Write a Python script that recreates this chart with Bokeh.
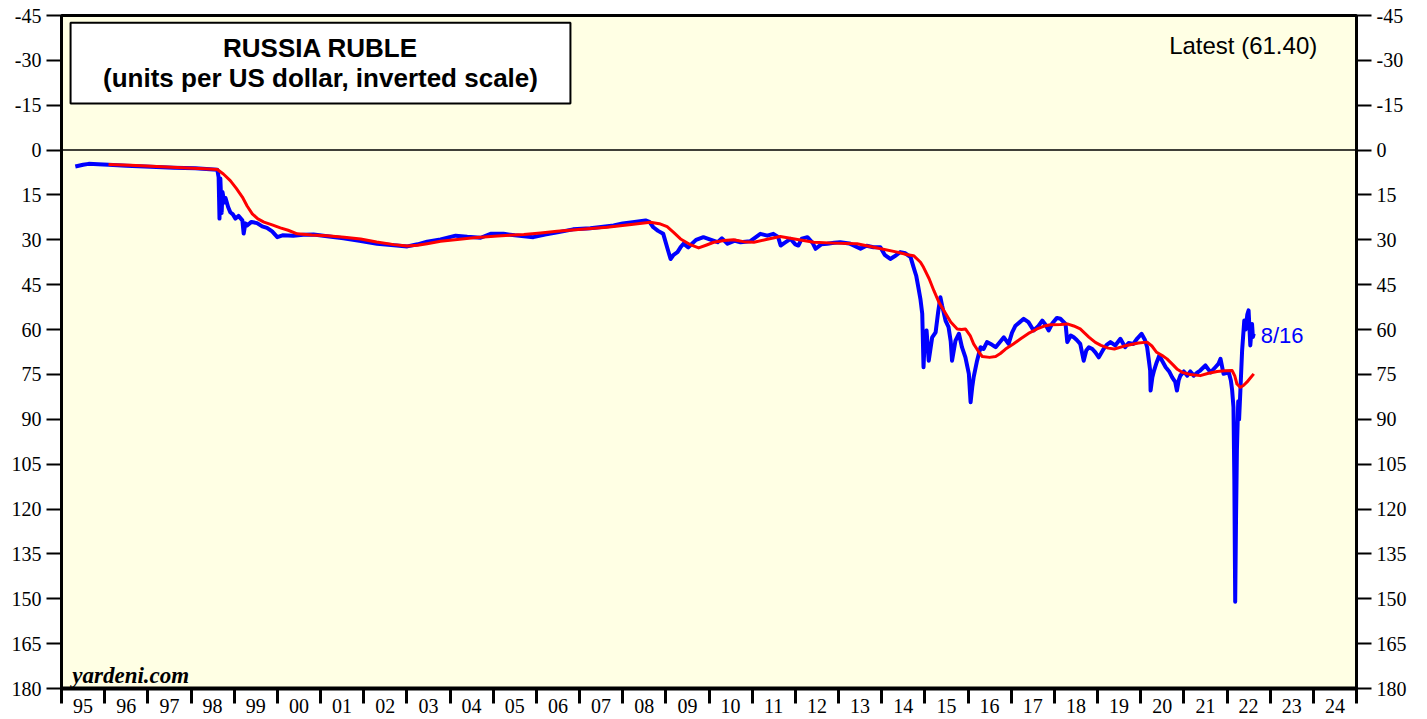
from bokeh.plotting import figure
from bokeh.models import Range1d, LinearAxis, FixedTicker, Span, BoxAnnotation, Label
from bokeh.embed import file_html
from bokeh.resources import INLINE

# ---------------- data ----------------
ruble_x = [1995.32, 1995.50, 1995.63, 1995.85, 1996.09, 1996.50, 1997.06, 1997.60, 1998.10, 1998.61,
           1998.64, 1998.66, 1998.68, 1998.71, 1998.73, 1998.77, 1998.80, 1998.86, 1998.91, 1998.97,
           1999.03, 1999.10, 1999.19, 1999.22, 1999.26, 1999.30, 1999.40, 1999.53, 1999.65, 1999.76,
           1999.88, 2000.00, 2000.12, 2000.37, 2000.60, 2000.84, 2001.20, 2001.53, 2001.90, 2002.31,
           2002.70, 2003.01, 2003.25, 2003.47, 2003.78, 2004.13, 2004.40, 2004.71, 2004.94, 2005.24,
           2005.50, 2005.93, 2006.20, 2006.49, 2006.85, 2007.25, 2007.50, 2007.79, 2008.00, 2008.23,
           2008.53, 2008.62, 2008.71, 2008.82, 2008.94, 2009.05, 2009.11, 2009.18, 2009.27, 2009.34,
           2009.41, 2009.52, 2009.70, 2009.87, 2010.05, 2010.20, 2010.30, 2010.43, 2010.60, 2010.73,
           2010.95, 2011.19, 2011.35, 2011.49, 2011.60, 2011.66, 2011.75, 2011.89, 2012.00, 2012.07,
           2012.15, 2012.28, 2012.40, 2012.47, 2012.60, 2012.74, 2012.90, 2013.04, 2013.25, 2013.51,
           2013.65, 2013.81, 2013.97, 2014.07, 2014.20, 2014.30, 2014.43, 2014.55, 2014.67, 2014.74,
           2014.80, 2014.85, 2014.90, 2014.94, 2014.97, 2015.00, 2015.04, 2015.09, 2015.17, 2015.25,
           2015.31, 2015.36, 2015.40, 2015.48, 2015.55, 2015.60, 2015.63, 2015.71, 2015.79, 2015.86,
           2015.94, 2016.02, 2016.06, 2016.10, 2016.13, 2016.21, 2016.29, 2016.36, 2016.44, 2016.55,
           2016.64, 2016.75, 2016.83, 2016.94, 2017.02, 2017.10, 2017.20, 2017.29, 2017.40, 2017.52,
           2017.62, 2017.72, 2017.80, 2017.87, 2017.95, 2018.06, 2018.14, 2018.26, 2018.30, 2018.38,
           2018.45, 2018.52, 2018.60, 2018.68, 2018.74, 2018.80, 2018.88, 2018.95, 2019.03, 2019.14,
           2019.22, 2019.30, 2019.41, 2019.53, 2019.64, 2019.72, 2019.83, 2019.92, 2020.02, 2020.10,
           2020.15, 2020.22, 2020.23, 2020.27, 2020.31, 2020.37, 2020.43, 2020.50, 2020.58, 2020.66,
           2020.73, 2020.80, 2020.84, 2020.88, 2020.92, 2021.00, 2021.08, 2021.15, 2021.23, 2021.30,
           2021.38, 2021.50, 2021.62, 2021.73, 2021.80, 2021.85, 2021.92, 2022.04, 2022.09, 2022.12,
           2022.15, 2022.17, 2022.19, 2022.21, 2022.23, 2022.26, 2022.28, 2022.31, 2022.35, 2022.40,
           2022.43, 2022.47, 2022.50, 2022.54, 2022.58, 2022.60, 2022.62]
ruble_y = [5.5, 4.9, 4.6, 4.7, 4.9, 5.2, 5.6, 5.9, 6.1, 6.6,
           9.0, 22.9, 9.5, 21.0, 14.0, 17.5, 16.0, 19.0, 20.8, 21.5,
           22.9, 22.0, 23.5, 27.9, 24.5, 25.2, 24.0, 24.4, 25.5, 26.0,
           27.2, 29.1, 28.5, 28.6, 28.3, 28.2, 28.9, 29.5, 30.3, 31.3,
           31.8, 32.2, 31.5, 30.6, 29.9, 28.6, 29.0, 29.3, 28.0, 28.0,
           28.5, 29.1, 28.2, 27.5, 26.5, 26.1, 25.7, 25.2, 24.5, 24.1,
           23.5, 24.0, 25.8, 27.0, 28.0, 33.5, 36.4, 35.0, 34.1, 32.5,
           31.3, 32.5, 30.0, 29.1, 30.0, 30.8, 29.5, 31.3, 30.3, 30.8,
           30.5, 28.0, 28.6, 28.0, 29.0, 31.9, 31.0, 29.7, 31.5, 31.9,
           29.6, 29.1, 31.0, 33.0, 31.5, 31.3, 31.0, 30.8, 31.2, 33.0,
           32.0, 32.5, 32.5, 35.0, 36.4, 35.5, 34.1, 34.5, 35.8, 39.2,
           42.0, 45.9, 50.0, 54.7, 72.6, 62.0, 60.3, 70.4, 62.6, 60.9,
           54.0, 49.2, 52.0, 57.0, 59.2, 64.0, 70.4, 63.7, 61.4, 65.9,
           69.3, 74.8, 84.3, 79.0, 76.0, 70.4, 65.9, 66.5, 64.2, 65.0,
           65.9, 64.0, 62.6, 64.8, 61.0, 58.7, 57.5, 56.4, 57.5, 60.3,
           59.0, 57.0, 58.5, 60.3, 58.0, 56.1, 56.4, 58.1, 64.2, 62.0,
           62.6, 63.5, 64.8, 70.4, 67.0, 65.9, 66.5, 67.6, 69.3, 66.5,
           65.0, 64.2, 65.3, 63.1, 65.9, 64.5, 64.8, 63.0, 61.4, 63.5,
           65.9, 73.7, 80.4, 76.0, 73.7, 71.0, 68.7, 70.5, 72.6, 74.0,
           76.0, 77.5, 80.4, 77.0, 75.4, 74.0, 75.4, 74.0, 75.4, 74.5,
           73.7, 72.0, 74.3, 72.6, 71.5, 69.8, 74.8, 74.3, 77.0, 80.4,
           86.0, 110.0, 151.0, 122.0, 100.0, 84.0, 90.0, 80.4, 67.0, 57.0,
           60.0, 55.0, 53.6, 65.3, 58.1, 62.5, 61.4]

ma_x = [1996.09, 1996.60, 1997.20, 1997.80, 1998.30, 1998.61, 1998.75, 1998.91, 1999.05, 1999.19,
        1999.30, 1999.42, 1999.55, 1999.69, 1999.88, 2000.07, 2000.25, 2000.46, 2000.80, 2001.15,
        2001.55, 2001.93, 2002.30, 2002.70, 2003.01, 2003.25, 2003.47, 2003.78, 2004.17, 2004.55,
        2005.10, 2005.71, 2006.10, 2006.48, 2007.05, 2007.64, 2008.20, 2008.64, 2008.85, 2009.03,
        2009.18, 2009.34, 2009.55, 2009.76, 2009.93, 2010.11, 2010.35, 2010.57, 2010.80, 2011.04,
        2011.35, 2011.65, 2012.05, 2012.43, 2012.90, 2013.43, 2013.90, 2014.36, 2014.60, 2014.74,
        2014.90, 2014.97, 2015.10, 2015.21, 2015.33, 2015.44, 2015.60, 2015.75, 2015.85, 2015.94,
        2016.05, 2016.13, 2016.25, 2016.33, 2016.50, 2016.64, 2016.75, 2016.87, 2017.05, 2017.22,
        2017.40, 2017.60, 2017.75, 2017.91, 2018.14, 2018.30, 2018.45, 2018.60, 2018.80, 2018.95,
        2019.08, 2019.25, 2019.39, 2019.60, 2019.78, 2019.95, 2020.15, 2020.26, 2020.37, 2020.50,
        2020.61, 2020.75, 2020.85, 2020.96, 2021.15, 2021.38, 2021.55, 2021.77, 2021.95, 2022.12,
        2022.18, 2022.23, 2022.31, 2022.38, 2022.46, 2022.54, 2022.62]
ma_y = [4.8, 5.1, 5.5, 5.9, 6.2, 6.5, 8.0, 10.2, 12.8, 15.7,
        18.7, 21.3, 23.0, 24.1, 25.0, 26.0, 26.8, 28.0, 28.4, 28.6,
        29.1, 29.7, 30.7, 31.6, 32.1, 31.8, 31.3, 30.5, 29.9, 29.3,
        28.7, 28.2, 27.7, 27.1, 26.5, 25.8, 24.9, 24.1, 24.6, 25.6,
        27.5, 29.7, 31.5, 32.7, 31.8, 30.8, 30.2, 30.0, 30.6, 30.8,
        29.8, 28.9, 29.9, 30.8, 31.1, 31.3, 32.7, 34.1, 35.0, 35.3,
        37.5, 39.2, 43.0, 47.0, 51.0, 53.6, 57.5, 59.8, 60.0, 59.8,
        62.0, 64.8, 67.5, 69.0, 69.3, 69.0, 68.0, 66.5, 64.8, 63.1,
        61.3, 59.8, 58.9, 58.4, 58.3, 58.1, 58.8, 59.8, 62.5, 64.3,
        65.3, 66.2, 66.5, 65.6, 65.0, 64.5, 64.2, 65.5, 67.6, 68.7,
        69.8, 71.8, 73.3, 74.3, 75.0, 75.4, 74.7, 74.0, 73.8, 73.7,
        75.5, 78.2, 79.3, 78.7, 77.6, 76.2, 74.8]

y_ticks = [-45, -30, -15, 0, 15, 30, 45, 60, 75, 90, 105, 120, 135, 150, 165, 180]
year_edges = list(range(1995, 2026))
year_labels = ["95", "96", "97", "98", "99", "00", "01", "02", "03", "04", "05", "06", "07", "08", "09",
               "10", "11", "12", "13", "14", "15", "16", "17", "18", "19", "20", "21", "22", "23", "24"]
title_lines = ["RUSSIA RUBLE", "(units per US dollar, inverted scale)"]
latest_text = "Latest (61.40)"
last_date_text = "8/16"

# ---------------- figure ----------------
p = figure(width=1427, height=719, output_backend="svg", toolbar_location=None,
           x_range=Range1d(1995, 2025), y_range=Range1d(180, -45),
           min_border_left=61, min_border_right=71, min_border_top=15, min_border_bottom=31,
           background_fill_color="#FFFFE4", border_fill_color="white")
p.grid.visible = False
p.outline_line_color = "black"
p.outline_line_width = 3

label_font = "Liberation Serif"

# bottom axis: labels centred in each year, ticks at year boundaries
mids = [y + 0.5 for y in year_edges[:-1]]
xa = p.xaxis[0]
xa.ticker = FixedTicker(ticks=mids, minor_ticks=year_edges)
xa.major_label_overrides = {m: lab for m, lab in zip(mids, year_labels)}
xa.major_tick_out = 0
xa.major_tick_in = 0
xa.minor_tick_out = 15
xa.minor_tick_in = 0
xa.minor_tick_line_width = 3
xa.minor_tick_line_color = "black"
xa.major_label_standoff = -5
xa.axis_line_color = "black"
xa.axis_line_width = 4
xa.major_label_text_font = label_font
xa.major_label_text_font_size = "20px"
xa.major_label_text_color = "black"

ylab = {t: str(t) for t in y_ticks}


def style_y(ax):
    ax.ticker = FixedTicker(ticks=y_ticks, minor_ticks=[])
    ax.major_label_overrides = ylab
    ax.major_tick_out = 15
    ax.major_tick_in = 0
    ax.major_tick_line_width = 2
    ax.major_tick_line_color = "black"
    ax.minor_tick_out = 0
    ax.minor_tick_in = 0
    ax.axis_line_color = None
    ax.major_label_standoff = 5
    ax.major_label_text_font = label_font
    ax.major_label_text_font_size = "20px"
    ax.major_label_text_color = "black"


style_y(p.yaxis[0])
yr = LinearAxis()
style_y(yr)
p.add_layout(yr, "right")

p.add_layout(Span(location=0, dimension="width", line_color="black", line_width=1.5, level="underlay"))

p.line(ruble_x, ruble_y, line_color="#0000FF", line_width=4, line_join="round")
p.line(ma_x, ma_y, line_color="#FF0000", line_width=3, line_join="round")

# title box
p.add_layout(BoxAnnotation(left=1995.21, right=2006.79, top=-42.6, bottom=-15.6,
                           fill_color="white", fill_alpha=1.0, line_color="black", line_alpha=1.0,
                           line_width=2, level="annotation"))
p.add_layout(Label(x=2001.0, y=-34.0, text=title_lines[0], text_align="center", text_baseline="middle",
                   text_font="Liberation Sans", text_font_style="bold", text_font_size="26px",
                   text_color="black"))
p.add_layout(Label(x=2001.0, y=-24.0, text=title_lines[1], text_align="center", text_baseline="middle",
                   text_font="Liberation Sans", text_font_style="bold", text_font_size="26px",
                   text_color="black"))

p.add_layout(Label(x=2024.09, y=-35.0, text=latest_text, text_align="right", text_baseline="middle",
                   text_font="Liberation Sans", text_font_size="24px", text_color="black"))
p.add_layout(Label(x=2022.78, y=62.0, text=last_date_text, text_align="left", text_baseline="middle",
                   text_font="Liberation Sans", text_font_size="22px", text_color="#0000FF"))
p.add_layout(Label(x=1995.25, y=175.6, text="yardeni.com", text_align="left", text_baseline="alphabetic",
                   text_font="Liberation Serif", text_font_style="bold italic", text_font_size="23px",
                   text_color="black"))

open("out.html", "w").write(file_html(p, INLINE))
